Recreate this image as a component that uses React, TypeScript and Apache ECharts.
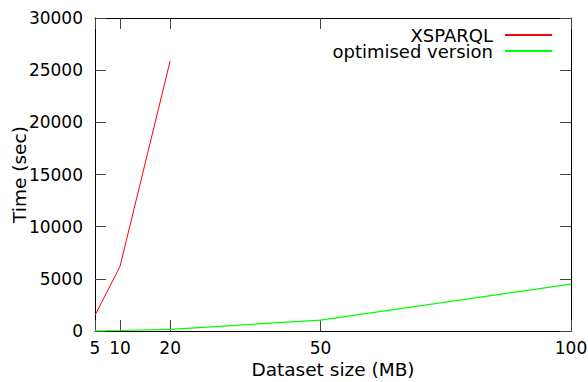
import React, { useEffect, useRef } from "react";
import * as echarts from "echarts";

const xTicks = [5, 10, 20, 50, 100];
const yTicks = [0, 5000, 10000, 15000, 20000, 25000, 30000];
const xsparqlX = [5, 10, 20];
const xsparqlY = [1500, 6200, 25900];
const optimisedX = [5, 10, 20, 50, 100];
const optimisedY = [20, 50, 160, 1050, 4500];
const seriesNames = ["XSPARQL", "optimised version"];

const FONT = "DejaVu Sans";

export default function App() {
  const ref = useRef<HTMLDivElement>(null);
  useEffect(() => {
    if (!ref.current) return;
    const chart = echarts.init(ref.current, null, { renderer: "svg" });
    const tickStyle = { color: "#444", width: 1 };
    const baseX = {
      type: "value",
      min: 5,
      max: 100,
      axisLine: { show: true, onZero: false, lineStyle: { color: "#000", width: 1 } },
      axisTick: { show: true, inside: true, length: 11, lineStyle: tickStyle, customValues: xTicks },
      splitLine: { show: false },
    };
    const baseY = {
      type: "value",
      min: 0,
      max: 30000,
      interval: 5000,
      axisLine: { show: true, onZero: false, lineStyle: { color: "#000", width: 1 } },
      axisTick: { show: true, inside: true, length: 11, lineStyle: tickStyle, customValues: yTicks },
      splitLine: { show: false },
    };
    const legendText = {
      fontFamily: FONT,
      fontSize: 18,
      color: "#000",
      lineHeight: 16,
      padding: [0, 7, 0, 0],
    };
    const legendBase = {
      right: 36,
      align: "right",
      orient: "vertical",
      itemWidth: 47,
      itemHeight: 2,
      itemGap: 0,
      icon: "rect",
      textStyle: legendText,
      padding: 0,
    };
    chart.setOption({
      animation: false,
      textStyle: { fontFamily: FONT },
      grid: { left: 95, right: 17, top: 18, bottom: 51, containLabel: false, outerBoundsMode: "none" },
      legend: [
        { ...legendBase, data: [seriesNames[0]], top: 26 },
        { ...legendBase, data: [seriesNames[1]], top: 42 },
      ],
      xAxis: [
        {
          ...baseX,
          position: "bottom",
          name: "Dataset size (MB)",
          nameLocation: "middle",
          nameGap: 29,
          nameMoveOverlap: false,
          nameTextStyle: { fontFamily: FONT, fontSize: 18.5, color: "#000" },
          axisLabel: {
            show: true,
            customValues: xTicks,
            formatter: (v: number) => String(v),
            fontFamily: FONT,
            fontSize: 17,
            color: "#000",
            margin: 8,
          },
        },
        {
          ...baseX,
          position: "top",
          axisLabel: { show: false },
        },
      ],
      yAxis: [
        {
          ...baseY,
          position: "left",
          name: "Time (sec)",
          nameLocation: "middle",
          nameGap: 66,
          nameMoveOverlap: false,
          nameTextStyle: { fontFamily: FONT, fontSize: 18.5, color: "#000" },
          axisLabel: {
            show: true,
            customValues: yTicks,
            formatter: (v: number) => String(v),
            fontFamily: FONT,
            fontSize: 17,
            color: "#000",
            margin: 12,
          },
        },
        {
          ...baseY,
          position: "right",
          axisLabel: { show: false },
        },
      ],
      series: [
        {
          name: seriesNames[0],
          type: "line",
          data: xsparqlX.map((x, i) => [x, xsparqlY[i]]),
          showSymbol: false,
          symbol: "none",
          lineStyle: { color: "#ff0000", width: 1 },
          itemStyle: { color: "#ff0000" },
        },
        {
          name: seriesNames[1],
          type: "line",
          data: optimisedX.map((x, i) => [x, optimisedY[i]]),
          showSymbol: false,
          symbol: "none",
          lineStyle: { color: "#00ff00", width: 1.2 },
          itemStyle: { color: "#00ff00" },
        },
      ],
    });
    return () => chart.dispose();
  }, []);
  return <div ref={ref} style={{ width: 588, height: 382, position: "absolute", left: 0, top: 0 }} />;
}
